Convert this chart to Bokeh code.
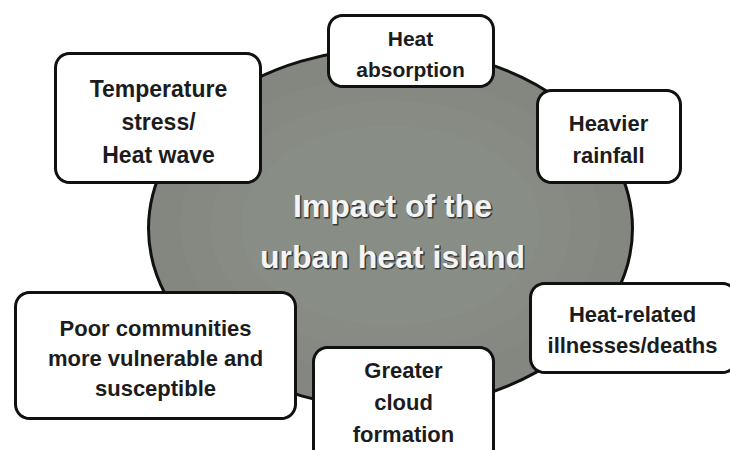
import numpy as np
from bokeh.plotting import figure
from bokeh.models import Range1d, ColumnDataSource
from bokeh.core.properties import value
from bokeh.embed import file_html
from bokeh.resources import INLINE

# ---- content ----
center_lines = ["Impact of the", "urban heat island"]
box_labels = [
    ["Temperature", "stress/", "Heat wave"],
    ["Heat", "absorption"],
    ["Heavier", "rainfall"],
    ["Heat-related", "illnesses/deaths"],
    ["Greater", "cloud", "formation"],
    ["Poor communities", "more vulnerable and", "susceptible"],
]

# ---- layout (pixel-like coordinates, y grows downward) ----
W, H = 730, 450
box_rects = [
    (55, 53, 260, 182),
    (328, 15, 493, 86),
    (537, 90, 680, 182),
    (530, 283, 736, 372),
    (313, 347, 493, 470),
    (15, 292, 295, 418),
]
text_cx = [158, 410, 608, 632, 403, 155]
text_first_y = [88, 38, 123, 314, 370, 328]
line_step = [33, 31, 32, 31, 32, 30]
font_px = [23, 21, 22, 22, 22, 22]

p = figure(width=W, height=H, output_backend="svg", toolbar_location=None,
           x_range=Range1d(0, W), y_range=Range1d(H, 0),
           x_axis_type=None, y_axis_type=None, min_border=0)
p.grid.visible = False
p.outline_line_color = None
p.background_fill_color = "white"
p.border_fill_color = "white"

# central ellipse with a soft lighter middle
p.ellipse(x=[390], y=[228], width=[484], height=[360],
          fill_color="#83877f", line_color="#111111", line_width=3)
for w, h in [(420, 300), (360, 250), (300, 200)]:
    p.ellipse(x=[390], y=[225], width=[w], height=[h],
              fill_color="#959991", fill_alpha=0.15, line_color=None)

def rounded(x0, y0, x1, y1, r=14, n=8):
    xs, ys = [], []
    corners = [(x1 - r, y0 + r, -90, 0), (x1 - r, y1 - r, 0, 90),
               (x0 + r, y1 - r, 90, 180), (x0 + r, y0 + r, 180, 270)]
    for cx, cy, a0, a1 in corners:
        t = np.radians(np.linspace(a0, a1, n))
        xs.extend(cx + r * np.cos(t))
        ys.extend(cy + r * np.sin(t))
    return xs, ys

bx, by = [], []
for r in box_rects:
    xs, ys = rounded(*r)
    bx.append(xs)
    by.append(ys)
p.patches(bx, by, fill_color="white", line_color="#111111", line_width=3)

# box texts
for i, lines in enumerate(box_labels):
    ys = [text_first_y[i] + k * line_step[i] for k in range(len(lines))]
    src = ColumnDataSource(dict(x=[text_cx[i]] * len(lines), y=ys, t=lines))
    p.text(x="x", y="y", text="t", source=src, text_align="center",
           text_baseline="middle", text_font=value("Liberation Sans"),
           text_font_style="bold", text_font_size=f"{font_px[i]}px",
           text_color="#1c1c1c")

# central title: dark halo then light text
src = ColumnDataSource(dict(x=[392, 392], y=[205, 256], t=center_lines))
p.text(x="x", y="y", text="t", source=src, text_align="center",
       text_baseline="middle", text_font=value("Liberation Sans"),
       text_font_style="bold", text_font_size="32px",
       text_color="#3a3c38", text_outline_color="#3a3c38",
       x_offset=1, y_offset=1)
p.text(x="x", y="y", text="t", source=src, text_align="center",
       text_baseline="middle", text_font=value("Liberation Sans"),
       text_font_style="bold", text_font_size="32px",
       text_color="#f4f4f4")

open("out.html", "w").write(file_html(p, INLINE))
